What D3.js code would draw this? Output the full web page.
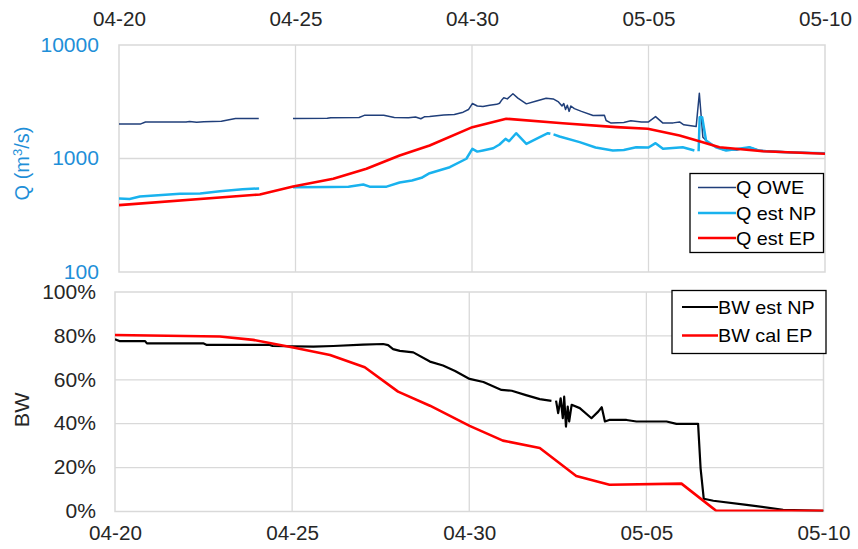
<!DOCTYPE html>
<html>
<head>
<meta charset="utf-8">
<script src="https://cdn.jsdelivr.net/npm/d3@7"></script>
<style>
  body { margin: 0; background: #fff; }
  text { font-family: "Liberation Sans", Arial, sans-serif; }
</style>
</head>
<body>
<svg id="chart" width="858" height="549"></svg>
<script>
// tick labels
const dateTicks = ['04-20', '04-25', '04-30', '05-05', '05-10'];
const qTicks = [100, 1000, 10000];
const bwTicks = [0, 0.2, 0.4, 0.6, 0.8, 1];

// [days after 04-20, value]; null value = gap in the record
const qOwe = [
  [0, 2010], [0.6, 2010], [0.75, 2095], [1.9, 2095], [2.0, 2120], [2.2, 2090], [2.4, 2110],
  [2.9, 2130], [3.3, 2250], [3.96, 2250], [4.4, null],
  [4.93, 2250], [5.9, 2260], [6.0, 2290], [6.8, 2300], [6.95, 2400], [7.5, 2400], [7.8, 2300],
  [8.2, 2290], [8.4, 2320], [8.55, 2240], [8.65, 2330], [8.8, 2340], [9.2, 2420], [9.5, 2440],
  [9.75, 2560], [9.9, 2700], [10.01, 3050], [10.15, 2900], [10.31, 2870], [10.5, 2950],
  [10.7, 3000], [10.78, 3070], [10.85, 3300], [10.9, 3430], [11.0, 3350], [11.16, 3720],
  [11.3, 3400], [11.54, 3030], [11.8, 3200], [12.1, 3400], [12.3, 3350], [12.45, 3150],
  [12.55, 2900], [12.6, 3050], [12.65, 2700], [12.7, 2950], [12.75, 2600], [12.8, 2900],
  [12.9, 2750], [13.1, 2600], [13.43, 2390], [13.75, 2400], [13.8, 2160], [13.94, 2050],
  [14.3, 2080], [14.5, 2150], [14.8, 2100], [15.0, 2100], [15.2, 2340], [15.41, 2050],
  [15.7, 2060], [15.88, 2100], [16.0, 1980], [16.35, 1910], [16.44, 3760], [16.54, 1540],
  [16.73, 1346], [17.1, 1200], [17.5, 1190], [17.86, 1257], [18.14, 1180], [19.0, 1140],
  [20.0, 1114]
];

const qEstNP = [
  [0, 445], [0.3, 440], [0.59, 462], [1.73, 489], [2.3, 492], [2.86, 515], [3.5, 535],
  [3.97, 545], [4.4, null],
  [4.93, 559], [5.97, 560], [6.5, 565], [6.92, 590], [7.1, 565], [7.58, 565], [7.95, 615],
  [8.3, 640], [8.57, 676], [8.8, 742], [9.37, 838], [9.84, 995], [10.01, 1217], [10.15, 1150],
  [10.31, 1176], [10.6, 1230], [10.78, 1328], [10.95, 1490], [11.05, 1420], [11.25, 1670],
  [11.54, 1346], [11.92, 1541], [12.15, 1670], [12.22, 1650], [12.26, null],
  [12.31, 1630], [12.48, 1563], [13.05, 1393], [13.5, 1250], [13.99, 1176], [14.3, 1190],
  [14.65, 1257], [15.0, 1250], [15.2, 1365], [15.41, 1217], [15.97, 1257], [16.3, 1176],
  [16.36, null],
  [16.42, 1160], [16.45, 2310], [16.52, 2310], [16.63, 1441], [16.91, 1257], [17.2, 1176],
  [17.86, 1257], [18.14, 1170], [19.0, 1130], [20.0, 1110]
];

const qEstEP = [
  [0, 388], [3.99, 482], [4.93, 566], [6.07, 662], [7.01, 811], [7.95, 1063], [8.8, 1302],
  [10.01, 1889], [10.97, 2238], [12.57, 2047], [14.09, 1889], [14.98, 1827], [15.88, 1595],
  [16.44, 1420], [17.01, 1257], [18.24, 1159], [20.0, 1100]
];

const bwEstNP = [
  [0, 0.785], [0.14, 0.776], [0.85, 0.776], [0.9, 0.766], [2.49, 0.766], [2.59, 0.759],
  [4.37, 0.759], [4.45, 0.754], [5.6, 0.751], [6.16, 0.754], [7.0, 0.760], [7.57, 0.763],
  [7.71, 0.758], [7.85, 0.740], [8.04, 0.732], [8.42, 0.725], [8.89, 0.683], [9.26, 0.665],
  [9.6, 0.64], [10.01, 0.604], [10.4, 0.59], [10.91, 0.554], [11.2, 0.55], [11.6, 0.53],
  [11.99, 0.512], [12.32, 0.504], [12.38, null],
  [12.45, 0.505], [12.51, 0.448], [12.58, 0.516], [12.64, 0.425], [12.68, 0.523],
  [12.73, 0.387], [12.78, 0.478], [12.82, 0.41], [12.89, 0.486], [13.12, 0.471],
  [13.45, 0.425], [13.64, 0.455], [13.74, 0.475], [13.83, 0.41], [13.95, 0.417],
  [14.44, 0.417], [14.72, 0.41], [15.57, 0.41], [15.85, 0.399], [16.46, 0.399],
  [16.53, 0.198], [16.62, 0.058], [16.89, 0.049], [17.83, 0.03], [18.86, 0.008], [20.0, 0.003]
];

const bwCalEP = [
  [0, 0.804], [2.96, 0.797], [3.9, 0.782], [5.03, 0.747], [6.07, 0.713], [7.05, 0.657],
  [7.99, 0.546], [8.89, 0.482], [10.01, 0.39], [10.95, 0.323], [11.99, 0.289], [13.02, 0.162],
  [13.96, 0.122], [15.99, 0.127], [16.97, 0.003], [20.0, 0.003]
];

const parse = d3.timeParse('%m-%d');
const fmt = d3.timeFormat('%m-%d');
const t0 = parse(dateTicks[0]);
const toDate = d => d3.timeMinute.offset(t0, Math.round(d * 1440));
const tickDates = dateTicks.map(parse);

const svg = d3.select('#chart');
const TXT = '#262626';
const GRID = '#d9d9d9';
const QBLUE = '#1f8fd8';

const pTop = { x0: 119, x1: 825, y0: 45, y1: 272 };
const pBot = { x0: 115, x1: 823.5, y0: 292, y1: 511.5 };

const xTop = d3.scaleTime().domain([t0, tickDates[tickDates.length - 1]]).range([pTop.x0, pTop.x1]);
const xBot = xTop.copy().range([pBot.x0, pBot.x1]);
const yQ = d3.scaleLog().domain([100, 10000]).range([pTop.y1, pTop.y0]);
const yBW = d3.scaleLinear().domain([0, 1]).range([pBot.y1, pBot.y0]);

// widen text a little, the source chart is stretched horizontally
function stretch(sel, k) {
  sel.each(function () {
    const w = this.getComputedTextLength();
    d3.select(this).attr('textLength', w * k).attr('lengthAdjust', 'spacingAndGlyphs');
  });
}

function panelFrame(p, x, yScale, hTicks) {
  const g = svg.append('g');
  g.selectAll('line.v').data(tickDates.slice(1, -1)).join('line')
    .attr('x1', d => x(d)).attr('x2', d => x(d))
    .attr('y1', p.y0).attr('y2', p.y1)
    .attr('stroke', GRID).attr('stroke-width', 1.3);
  g.selectAll('line.h').data(hTicks).join('line')
    .attr('x1', p.x0).attr('x2', p.x1)
    .attr('y1', d => yScale(d)).attr('y2', d => yScale(d))
    .attr('stroke', GRID).attr('stroke-width', 1.3);
  g.append('rect')
    .attr('x', p.x0).attr('y', p.y0)
    .attr('width', p.x1 - p.x0).attr('height', p.y1 - p.y0)
    .attr('fill', 'none').attr('stroke', GRID).attr('stroke-width', 1.5);
}

panelFrame(pTop, xTop, yQ, [1000]);
panelFrame(pBot, xBot, yBW, [0.2, 0.4, 0.6, 0.8]);

// axes
function styleAxis(g, color, k) {
  g.select('.domain').remove();
  g.selectAll('text').attr('fill', color).attr('font-size', '19.5px')
    .attr('font-family', '"Liberation Sans", Arial, sans-serif');
  stretch(g.selectAll('text'), k);
}

svg.append('g')
  .attr('transform', `translate(0,${pTop.y0})`)
  .call(d3.axisTop(xTop).tickValues(tickDates).tickFormat(fmt).tickSize(0).tickPadding(19))
  .call(g => styleAxis(g, TXT, 1.06));

svg.append('g')
  .attr('transform', `translate(0,${pBot.y1})`)
  .call(d3.axisBottom(xBot).tickValues(tickDates).tickFormat(fmt).tickSize(0).tickPadding(15))
  .call(g => styleAxis(g, TXT, 1.06));

svg.append('g')
  .attr('transform', `translate(${pTop.x0},0)`)
  .call(d3.axisLeft(yQ).tickValues(qTicks).tickFormat(d3.format('d')).tickSize(0).tickPadding(20))
  .call(g => styleAxis(g, QBLUE, 1.08));

svg.append('g')
  .attr('transform', `translate(${pBot.x0},0)`)
  .call(d3.axisLeft(yBW).tickValues(bwTicks).tickFormat(d3.format('.0%')).tickSize(0).tickPadding(19))
  .call(g => styleAxis(g, TXT, 1.08));

// axis titles
const qTitle = svg.append('text')
  .attr('transform', `translate(29,${(pTop.y0 + pTop.y1) / 2 + 5}) rotate(-90)`)
  .attr('text-anchor', 'middle').attr('fill', QBLUE).attr('font-size', '20px');
qTitle.append('tspan').text('Q (m');
qTitle.append('tspan').attr('dy', -7).attr('font-size', '13px').text('3');
qTitle.append('tspan').attr('dy', 7).text('/s)');

svg.append('text')
  .attr('transform', `translate(29,${(pBot.y0 + pBot.y1) / 2 + 8}) rotate(-90)`)
  .attr('text-anchor', 'middle').attr('fill', TXT).attr('font-size', '20px')
  .text('BW')
  .call(s => stretch(s, 1.08));

// clip paths
const defs = svg.append('defs');
[['clipTop', pTop], ['clipBot', pBot]].forEach(([id, p]) => {
  defs.append('clipPath').attr('id', id).append('rect')
    .attr('x', p.x0).attr('y', p.y0).attr('width', p.x1 - p.x0).attr('height', p.y1 - p.y0);
});

const qSeries = [
  { name: 'Q OWE', data: qOwe, color: '#203f7a', width: 1.5 },
  { name: 'Q est NP', data: qEstNP, color: '#19b2ee', width: 2.5 },
  { name: 'Q est EP', data: qEstEP, color: '#ff0000', width: 2.6 }
];
const bwSeries = [
  { name: 'BW est NP', data: bwEstNP, color: '#000000', width: 2.2 },
  { name: 'BW cal EP', data: bwCalEP, color: '#ff0000', width: 2.6 }
];

function drawLines(series, x, y, clip) {
  const line = d3.line()
    .defined(d => d[1] != null)
    .x(d => x(toDate(d[0])))
    .y(d => y(d[1]));
  svg.append('g').attr('clip-path', `url(#${clip})`)
    .selectAll('path').data(series).join('path')
    .attr('d', s => line(s.data))
    .attr('fill', 'none')
    .attr('stroke', s => s.color)
    .attr('stroke-width', s => s.width)
    .attr('stroke-linejoin', 'round');
}

drawLines(qSeries, xTop, yQ, 'clipTop');
drawLines(bwSeries, xBot, yBW, 'clipBot');

// legends
function legend(series, box, lineX0, lineX1, rowY) {
  const g = svg.append('g');
  g.append('rect')
    .attr('x', box.x).attr('y', box.y).attr('width', box.w).attr('height', box.h)
    .attr('fill', '#fff').attr('stroke', '#000').attr('stroke-width', 1.3);
  const rows = g.selectAll('g.row').data(series).join('g')
    .attr('transform', (_, i) => `translate(0,${rowY[i]})`);
  rows.append('line')
    .attr('x1', lineX0).attr('x2', lineX1)
    .attr('stroke', d => d.color).attr('stroke-width', d => d.width);
  rows.append('text')
    .attr('x', lineX1).attr('dy', '0.36em')
    .attr('fill', '#000').attr('font-size', '19px')
    .text(d => d.name)
    .call(s => stretch(s, 1.04));
}

legend(qSeries, { x: 690, y: 173.5, w: 133.5, h: 79 }, 698, 736, [187.5, 213, 238]);
legend(bwSeries, { x: 672, y: 290.5, w: 154, h: 63 }, 682, 718, [307, 335.5]);
</script>
</body>
</html>
